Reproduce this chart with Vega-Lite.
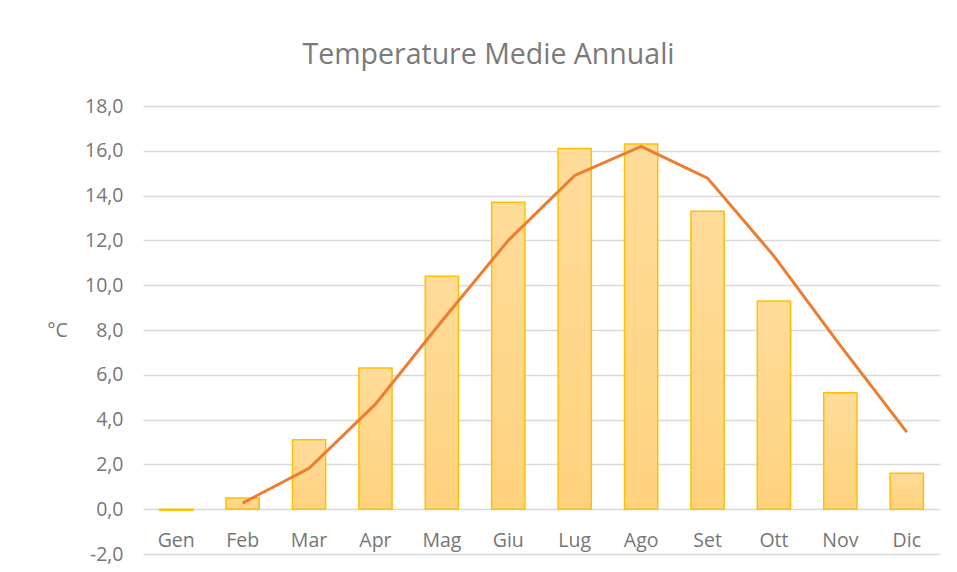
{
  "$schema": "https://vega.github.io/schema/vega-lite/v6.json",
  "width": 797,
  "height": 448,
  "autosize": {"type": "none"},
  "padding": {"left": 143, "top": 106, "right": 17, "bottom": 18},
  "background": "white",
  "title": {
    "text": "Temperature Medie Annuali",
    "font": "Open Sans",
    "fontSize": 28.5,
    "fontWeight": "normal",
    "color": "#7A7A7A",
    "anchor": "middle",
    "dx": -53,
    "offset": 27
  },
  "data": {
    "values": [
      {"mese": "Gen", "bar": -0.05, "line": null},
      {"mese": "Feb", "bar": 0.5, "line": 0.27},
      {"mese": "Mar", "bar": 3.1, "line": 1.83},
      {"mese": "Apr", "bar": 6.3, "line": 4.69},
      {"mese": "Mag", "bar": 10.4, "line": 8.4},
      {"mese": "Giu", "bar": 13.7, "line": 12.0},
      {"mese": "Lug", "bar": 16.1, "line": 14.9},
      {"mese": "Ago", "bar": 16.3, "line": 16.2},
      {"mese": "Set", "bar": 13.3, "line": 14.78},
      {"mese": "Ott", "bar": 9.3, "line": 11.3},
      {"mese": "Nov", "bar": 5.2, "line": 7.3},
      {"mese": "Dic", "bar": 1.6, "line": 3.44}
    ]
  },
  "encoding": {
    "x": {
      "field": "mese",
      "type": "nominal",
      "sort": null,
      "scale": {"paddingInner": 0.5, "paddingOuter": 0.25},
      "axis": {
        "title": null,
        "orient": "bottom",
        "offset": -45,
        "domain": false,
        "ticks": false,
        "labelAngle": 0,
        "labelPadding": 22,
        "labelFont": "Open Sans",
        "labelFontSize": 19.5,
        "labelColor": "#767676"
      }
    }
  },
  "layer": [
    {
      "mark": {
        "type": "bar",
        "stroke": "#FFC000",
        "strokeWidth": 1.5,
        "fill": {
          "gradient": "linear",
          "x1": 0, "y1": 0, "x2": 0, "y2": 1,
          "stops": [
            {"offset": 0, "color": "#FFDC9A"},
            {"offset": 1, "color": "#FFD27E"}
          ]
        }
      },
      "encoding": {
        "y": {
          "field": "bar",
          "type": "quantitative",
          "scale": {"domain": [-2, 18], "nice": false, "zero": false},
          "axis": {
            "values": [-2, 0, 2, 4, 6, 8, 10, 12, 14, 16, 18],
            "labelExpr": "replace(replace(format(datum.value, '.1f'), '.', ','), '\u2212', '-')",
            "domain": false,
            "ticks": false,
            "grid": true,
            "gridColor": "#D9D9D9",
            "gridWidth": 1.3,
            "labelPadding": 20,
            "labelFont": "Open Sans",
            "labelFontSize": 19.5,
            "labelColor": "#767676",
            "title": "°C",
            "titleAngle": 0,
            "titleFont": "Open Sans",
            "titleFontSize": 19.5,
            "titleFontWeight": "normal",
            "titleColor": "#767676",
            "titleX": -86,
            "titleY": 224,
            "titleAlign": "center",
            "titleBaseline": "middle"
          }
        }
      }
    },
    {
      "transform": [{"filter": "isValid(datum.line)"}],
      "mark": {"type": "line", "color": "#ED7D31", "strokeWidth": 3},
      "encoding": {
        "y": {"field": "line", "type": "quantitative"}
      }
    }
  ],
  "config": {"view": {"stroke": null}}
}
